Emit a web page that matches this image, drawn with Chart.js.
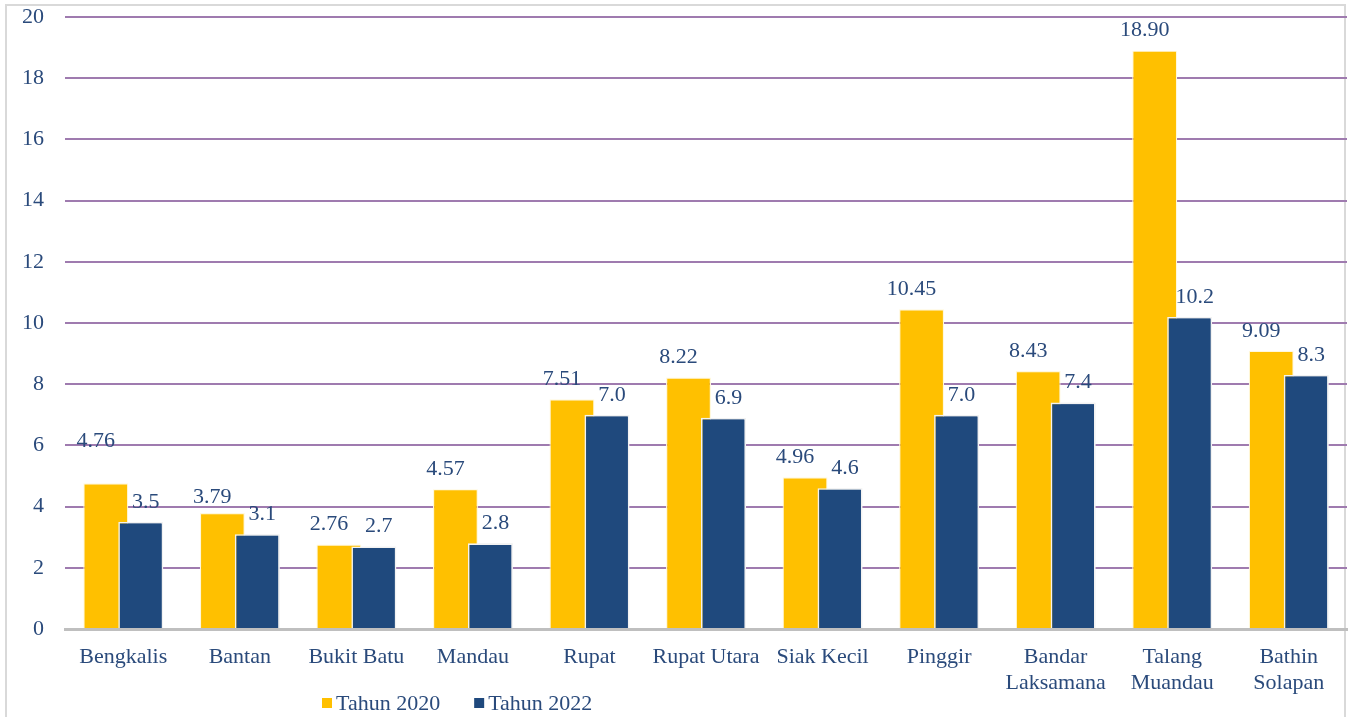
<!DOCTYPE html>
<html>
<head>
<meta charset="utf-8">
<script src="https://cdn.jsdelivr.net/npm/chart.js@4/dist/chart.umd.min.js"></script>
<style>
  html, body { margin: 0; padding: 0; background: #ffffff; overflow: hidden; }
  #frame { position: absolute; left: 5px; top: 4px; width: 1341px; height: 760px; border: 2px solid #D9D9D9; box-sizing: border-box; }
  #wrap { position: absolute; left: 0; top: 0; width: 1351px; height: 717px; }
</style>
</head>
<body>
<div id="frame"></div>
<div id="wrap"><canvas id="c" width="1351" height="717"></canvas></div>
<script>
const categories = [
  "Bengkalis", "Bantan", "Bukit Batu", "Mandau", "Rupat", "Rupat Utara",
  "Siak Kecil", "Pinggir", ["Bandar", "Laksamana"], ["Talang", "Muandau"], ["Bathin", "Solapan"]
];
const seriesNames = ["Tahun 2020", "Tahun 2022"];
const values2020 = [4.76, 3.79, 2.76, 4.57, 7.51, 8.22, 4.96, 10.45, 8.43, 18.90, 9.09];
const values2022 = [3.5, 3.1, 2.7, 2.8, 7.0, 6.9, 4.6, 7.0, 7.4, 10.2, 8.3];
const decimals = [2, 1];
const yTicks = [0, 2, 4, 6, 8, 10, 12, 14, 16, 18, 20];

const TEXT = '#2A4A7B';
const FONT = '"Liberation Serif", "DejaVu Serif", serif';
const colors = ['#FFC000', '#1F497D'];

// label nudges (style only): [series][index] -> extra vertical shift in px
const labelExtraUp = [[22, -4, 0, 0, 0, 0, 0, 0, 0, 0, 0], [0,0,0,0,0,0,0,0,0,0,0]];
const labelDx = [-10, 5];

const topLayer = {
  id: 'topLayer',
  afterDatasetsDraw(chart) {
    const ctx = chart.ctx;
    const meta1 = chart.getDatasetMeta(1);
    meta1.data.forEach(el => el.draw(ctx));
    ctx.save();
    ctx.font = '22px ' + FONT;
    ctx.fillStyle = TEXT;
    ctx.textAlign = 'center';
    ctx.textBaseline = 'middle';
    [0, 1].forEach(di => {
      const meta = chart.getDatasetMeta(di);
      const ds = chart.data.datasets[di];
      meta.data.forEach((el, i) => {
        const v = ds.data[i];
        ctx.fillText(v.toFixed(decimals[di]), el.x + labelDx[di], el.y - 20 - labelExtraUp[di][i]);
      });
    });
    ctx.restore();
  },
  afterDraw(chart) {
    const ctx = chart.ctx;
    ctx.save();
    ctx.font = '22px ' + FONT;
    ctx.textBaseline = 'middle';
    ctx.textAlign = 'left';
    let x = 322;
    const y = 703;
    chart.data.datasets.forEach((ds, i) => {
      ctx.fillStyle = ds.backgroundColor;
      ctx.fillRect(x, y - 5, 10, 10);
      ctx.fillStyle = TEXT;
      ctx.fillText(ds.label, x + 14, y + 1);
      x += 14 + ctx.measureText(ds.label).width + 34;
    });
    ctx.restore();
  }
};

new Chart(document.getElementById('c'), {
  type: 'bar',
  data: {
    labels: categories,
    datasets: [
      { label: seriesNames[0], data: values2020, backgroundColor: colors[0], borderColor: '#FFF8DC', borderWidth: 1.2,
        categoryPercentage: 0.6, barPercentage: 1.286 },
      { label: seriesNames[1], data: values2022, backgroundColor: colors[1], borderColor: '#F2F2F2', borderWidth: 1.6,
        categoryPercentage: 0.6, barPercentage: 1.286 }
    ]
  },
  options: {
    responsive: false,
    animation: false,
    events: [],
    layout: { autoPadding: false, padding: { left: 0, top: 17, right: 4, bottom: 0 } },
    plugins: { legend: { display: false }, tooltip: { enabled: false } },
    scales: {
      x: {
        grid: { display: false, drawTicks: false },
        border: { display: true, color: '#BFBFBF', width: 3 },
        ticks: { color: TEXT, font: { family: FONT, size: 22, lineHeight: 1.2 }, padding: 15, maxRotation: 0, autoSkip: false },
        afterFit(s) { s.height = 88; s.paddingLeft = 0; s.paddingRight = 0; }
      },
      y: {
        min: 0, max: 20,
        afterBuildTicks(s) { s.ticks = yTicks.map(v => ({ value: v })); },
        grid: { color: ctx => ctx.tick && ctx.tick.value === 0 ? 'rgba(0,0,0,0)' : '#9F7BAF', lineWidth: 2, drawTicks: false },
        border: { display: false },
        ticks: { color: TEXT, font: { family: FONT, size: 22 }, padding: 21 },
        afterFit(s) { s.width = 65; s.paddingTop = 0; s.paddingBottom = 0; }
      }
    }
  },
  plugins: [topLayer]
});
</script>
</body>
</html>
